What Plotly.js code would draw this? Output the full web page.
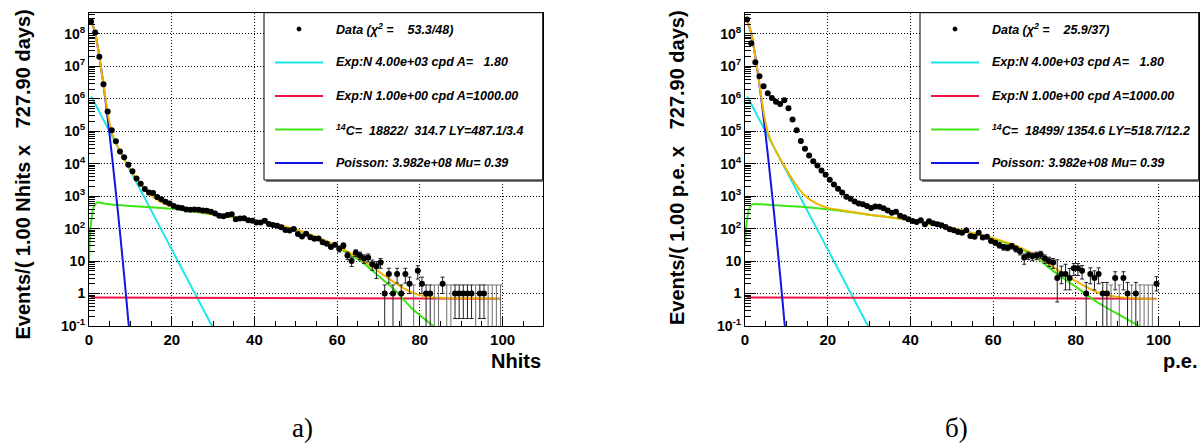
<!DOCTYPE html>
<html><head><meta charset="utf-8">
<script src="https://cdn.plot.ly/plotly-3.0.1.min.js"></script>
<style>html,body{margin:0;padding:0;background:#fff;}#chart{width:1204px;height:444px;}</style>
</head><body><div id="chart"></div>
<script>
// ---------------- data ----------------
const bins = [0.5,1.5,2.5,3.5,4.5,5.5,6.5,7.5,8.5,9.5,10.5,11.5,12.5,13.5,14.5,15.5,16.5,17.5,18.5,19.5,
20.5,21.5,22.5,23.5,24.5,25.5,26.5,27.5,28.5,29.5,30.5,31.5,32.5,33.5,34.5,35.5,36.5,37.5,38.5,39.5,
40.5,41.5,42.5,43.5,44.5,45.5,46.5,47.5,48.5,49.5,50.5,51.5,52.5,53.5,54.5,55.5,56.5,57.5,58.5,59.5,
60.5,61.5,62.5,63.5,64.5,65.5,66.5,67.5,68.5,69.5,70.5,71.5,72.5,73.5,74.5,75.5,76.5,77.5,78.5,79.5,
80.5,81.5,82.5,83.5,84.5,85.5,86.5,87.5,88.5,89.5,90.5,91.5,92.5,93.5,94.5,95.5,96.5,97.5,98.5,99.5];

const dataLeft = [2.4e8,1.1e8,2.0e7,2.8e6,4.1e5,1.07e5,4.9e4,2.4e4,1.6e4,9300,
5900,3500,2400,1660,1300,1250,950,800,680,600,
500,450,430,390,385,390,380,365,355,330,
295,250,240,265,280,195,205,210,182,174,
155,155,174,138,129,123,110,91,87,98,
69,57,70,54,49,50,38,34,27,32,
24,30,15,10,18,15,12,13,8,7,
9,1,4,1,4,1,4,2,0,5,
2,1,1,0,0,2,0,0,1,1,
1,1,1,0,1,1,0,0,0,0];

const dataRight = [2.8e8,5.2e7,1.35e7,5.0e6,2.45e6,1.5e6,1.07e6,8.1e5,6.9e5,9.1e5,
5.1e5,2.3e5,1.07e5,5.0e4,2.9e4,1.8e4,1.2e4,8900,6200,4600,
3200,2300,1700,1300,960,830,690,600,560,500,
435,480,470,425,365,310,330,250,225,194,
173,161,180,136,169,146,136,127,112,95,
89,79,75,89,59,56,75,53,56,42,
37,31,27,26,29,24,20,13,15,14,
15,16,12,10,9,3,4,4,3,6,
6,5,1,4,3,4,1,1,0,3,
0,3,1,0,1,0,0,0,0,2];

// error bars for the tail bins (bins 60.5 ... 99.5)
const tailStart = 60;
const errLoLeft = [4.9,5.5,3.9,3.2,4.2,3.9,3.5,3.6,2.8,4.1,
3,1,1.9,1,1.9,1,1.9,1,0,2.2,
1,1,1,0,0,1,0,0,0.83,0.83,
0.83,0.83,0.83,0,0.83,0.83,0,0,0,0];
const errHiLeft = [4.9,5.5,3.9,3.2,4.2,3.9,3.5,3.6,2.8,2.6,
3,0.84,2,0.84,2,0.84,2,1.2,1.84,2.2,
1.2,0.84,0.84,1.84,1.84,1.2,1.84,1.84,0.84,0.84,
0.84,0.84,0.84,1.84,0.84,0.84,1.84,1.84,1.84,1.84];
const errLoRight = [6.1,5.6,5.2,5.1,5.4,4.9,4.5,5,3.9,3.7,
3.9,4,3.5,3.2,3,2.45,2,2.7,1.7,2.4,
2.4,2.2,1,2,1.7,2,1,1,0,1.7,
0,1.7,1,0,1,0,0,0,0,0.8];
const errHiRight = [6.1,5.6,5.2,5.1,5.4,4.9,4.5,3.6,3.9,3.7,
3.9,4,3.5,3.2,3,8,3,4,2.9,2.4,
2.4,2.3,1.2,2.2,2,2.2,1.2,1.2,1.84,1.7,
1.84,1.7,1.2,1.84,1.2,1.84,1.84,1.84,1.84,1.3];

// fit components
const cyanX = [0.5,5,10,15,20,25,30];
const cyanY = [1.2e6,1.0e5,6.0e3,370,23,1.4,0.087];
const redX = [0.5,25,50,75,99.5];
const redY = [0.76,0.74,0.72,0.705,0.69];
const blueX = [0.5,1.5,2.5,3.5,4.5,5.5,6.5,7.5,8.5,9.5,10.5];
const blueY = [2.7e8,1.05e8,2.0e7,2.7e6,2.6e5,2.0e4,1300,75,3.6,0.15,0.006];
const greenLeftX = [0,0.25,0.5,0.75,1,1.5,2,3,4,6,8,10,14,20,25,30,35,40,45,50,55,60,63,66,70,74,78,83.3];
const greenLeftY = [10,56,160,280,400,560,645,617,589,550,525,501,468,407,339,275,224,182,135,93,54,27.5,15.8,9.5,3.5,1.26,0.355,0.1];
const greenRightX = [0,0.25,0.5,1,1.5,2,4,7,10,15,20,25,30,35,40,45,50,55,60,65,70,75,80,85,90,95.3];
const greenRightY = [29,100,200,398,525,575,562,525,501,457,398,331,269,224,178,135,102,72,49,29.5,14.1,4.5,1.6,0.56,0.24,0.1];
const orangeLeftX = [0.5,1.5,2.5,3.5,4.5,5.5,6.5,8,10,12,14,16,18,20,22,25,30,35,40,45,50,55,60,63,66,70,73,76,79,82,85,90,99.5];
const orangeLeftY = [2.8e8,1.05e8,2.0e7,2.8e6,3.9e5,9.3e4,4.5e4,1.8e4,6600,2800,1400,850,600,480,420,355,280,230,182,138,95,56,29.5,17.8,11,4.8,2.6,1.48,0.98,0.79,0.74,0.72,0.70];
const orangeRightX = [0.5,1.5,2.5,3.5,4.5,5.5,6.5,8,10,12,14,16,18,20,25,30,35,40,45,50,55,60,65,70,75,80,85,90,95,99.5];
const orangeRightY = [2.8e8,1.05e8,2.0e7,2.8e6,3.9e5,9.3e4,4.4e4,1.86e4,6600,2600,1200,740,540,436,340,270,224,178,138,105,74,51,31.6,15.8,6.0,2.4,1.12,0.79,0.70,0.67];

// axes labels
const xTickVals = [0,20,40,60,80,100];
const xMinorVals = [5,10,15,25,30,35,45,50,55,65,70,75,85,90,95,105];
const yTickVals = [0.1,1,10,100,1e3,1e4,1e5,1e6,1e7,1e8];
const yTickText = ['10<sup>-1</sup>','1','10','10<sup>2</sup>','10<sup>3</sup>','10<sup>4</sup>','10<sup>5</sup>','10<sup>6</sup>','10<sup>7</sup>','10<sup>8</sup>'];
const xTitles = ['Nhits','p.e.'];
const yTitles = ['Events/( 1.00 Nhits x \u00a0\u00a0727.90 days)','Events/( 1.00 p.e. x \u00a0\u00a0727.90 days)'];
const panelLabels = ['а)','б)'];
const legendLeft = ['Data (χ<sup>2</sup> = \u00a0\u00a0\u00a053.3/48)','Exp:N 4.00e+03 cpd A= \u00a0\u00a01.80','Exp:N 1.00e+00 cpd A=1000.00','<sup>14</sup>C= \u00a018822/ \u00a0314.7 LY=487.1/3.4','Poisson: 3.982e+08 Mu= 0.39'];
const legendRight = ['Data (χ<sup>2</sup> = \u00a0\u00a0\u00a025.9/37)','Exp:N 4.00e+03 cpd A= \u00a0\u00a01.80','Exp:N 1.00e+00 cpd A=1000.00','<sup>14</sup>C= \u00a018499/ 1354.6 LY=518.7/12.2','Poisson: 3.982e+08 Mu= 0.39'];

// ---------------- styling ----------------
const W = 1204, H = 444;
const px = x => x / W, py = y => 1 - y / H;
const COL = {cyan:'#1ee6e6', red:'#f01446', green:'#3ce614', blue:'#1414e6', orange:'#f0b400'};
const FONT = 'Liberation Sans, Arial, Helvetica, sans-serif';
const GRIDDASH = '1px,2px';

function yMinor(){ const v=[]; for(let d=-1; d<=8; d++){ for(let k=2;k<=9;k++){ const t=k*Math.pow(10,d); if(t<4.5e8) v.push(t);} } return v; }

function panelTraces(xa, ya, data, errLo, errHi, gX, gY, oX, oY){
  const lo = data.map((v,i)=> i>=tailStart ? errLo[i-tailStart] : 0);
  const hi = data.map((v,i)=> i>=tailStart ? errHi[i-tailStart] : 0);
  const nzX=[], nzY=[], nzLo=[], nzHi=[], zX=[], zY=[], zHi=[];
  data.forEach((v,i)=>{
    if(v>0){ nzX.push(bins[i]); nzY.push(v); nzLo.push(lo[i]); nzHi.push(hi[i]); }
    else { zX.push(bins[i]); zY.push(v+hi[i]); zHi.push(hi[i]); }
  });
  const ln = (x,y,c,shape)=>({x:x,y:y,xaxis:xa,yaxis:ya,type:'scatter',mode:'lines',
     line:{color:c,width:2,shape:shape||'linear',smoothing:0.6},hoverinfo:'skip'});
  return [
    ln(cyanX,cyanY,COL.cyan),
    ln(redX,redY,COL.red),
    ln(gX,gY,COL.green,'spline'),
    ln(blueX,blueY,COL.blue,'spline'),
    ln(oX,oY,COL.orange,'spline'),
    {x:zX,y:zY,xaxis:xa,yaxis:ya,type:'scatter',mode:'markers',marker:{size:1,opacity:0},
     error_y:{type:'data',symmetric:false,array:zX.map(()=>0),arrayminus:zHi,color:'#707070',thickness:1,width:2}},
    {x:nzX,y:nzY,xaxis:xa,yaxis:ya,type:'scatter',mode:'markers',
     marker:{size:6,color:'#000',symbol:'circle'},
     error_y:{type:'data',symmetric:false,array:nzHi,arrayminus:nzLo,color:'#222',thickness:1,width:2}}
  ];
}

const traces = [].concat(
  panelTraces('x','y',dataLeft,errLoLeft,errHiLeft,greenLeftX,greenLeftY,orangeLeftX,orangeLeftY),
  panelTraces('x2','y2',dataRight,errLoRight,errHiRight,greenRightX,greenRightY,orangeRightX,orangeRightY)
);

function xAxis(dom, anchor){
  return {domain:dom, anchor:anchor, range:[0,109.7], showline:true, linecolor:'#000', linewidth:1, mirror:true,
    ticks:'inside', ticklen:9, tickwidth:1, tickcolor:'#000', tickmode:'array', tickvals:xTickVals,
    tickfont:{family:FONT,size:15,color:'#000',weight:'bold'},
    showgrid:true, gridcolor:'#000', gridwidth:1, griddash:GRIDDASH, zeroline:false,
    minor:{tickmode:'array', tickvals:xMinorVals, ticks:'inside', ticklen:5, tickcolor:'#000', tickwidth:1, showgrid:false}};
}
function yAxis(anchor){
  return {domain:[py(326),py(12.7)], anchor:anchor, type:'log', range:[-1,8.655], showline:true, linecolor:'#000', linewidth:1, mirror:true,
    ticks:'inside', ticklen:11, tickwidth:1, tickcolor:'#000', tickmode:'array', tickvals:yTickVals, ticktext:yTickText,
    tickfont:{family:FONT,size:14,color:'#000',weight:'bold'},
    showgrid:true, gridcolor:'#000', gridwidth:1, griddash:GRIDDASH, zeroline:false,
    minor:{tickmode:'array', tickvals:yMinor(), ticks:'inside', ticklen:6, tickcolor:'#000', tickwidth:1, showgrid:false}};
}

// legend boxes
const shapes = [], annotations = [];
const rowsY = [29,62.5,96,129.5,163];
const lineCols = [null, COL.cyan, COL.red, COL.green, COL.blue];
function addLegend(x0, x1, texts){
  shapes.push({type:'rect',xref:'paper',yref:'paper',x0:px(x0+2),x1:px(x1),y0:py(182),y1:py(180),fillcolor:'#808080',line:{width:0},layer:'above'});
  shapes.push({type:'rect',xref:'paper',yref:'paper',x0:px(x0),x1:px(x1),y0:py(180),y1:py(12.7),fillcolor:'#fff',line:{color:'#000',width:1},layer:'above'});
  texts.forEach((t,i)=>{
    const yy = rowsY[i];
    if(i===0){
      shapes.push({type:'circle',xref:'paper',yref:'paper',x0:px(x0+33),x1:px(x0+37),y0:py(yy+2),y1:py(yy-2),fillcolor:'#000',line:{color:'#000',width:1},layer:'above'});
    } else {
      shapes.push({type:'line',xref:'paper',yref:'paper',x0:px(x0+11),x1:px(x0+59),y0:py(yy),y1:py(yy),line:{color:lineCols[i],width:2},layer:'above'});
    }
    annotations.push({xref:'paper',yref:'paper',x:px(x0+70),y:py(yy),xanchor:'left',yanchor:'middle',showarrow:false,
      text:t,font:{family:FONT,size:12.5,color:'#000',weight:'bold',style:'italic'}});
  });
}
addLegend(264,542.7,legendLeft);
addLegend(920,1198.7,legendRight);

// axis titles & panel labels
annotations.push({xref:'paper',yref:'paper',x:px(542.7),y:py(361),xanchor:'right',yanchor:'middle',showarrow:false,text:xTitles[0],font:{family:FONT,size:20,color:'#000',weight:'bold'}});
annotations.push({xref:'paper',yref:'paper',x:px(1198.7),y:py(361),xanchor:'right',yanchor:'middle',showarrow:false,text:xTitles[1],font:{family:FONT,size:20,color:'#000',weight:'bold'}});
annotations.push({xref:'paper',yref:'paper',x:px(22.5),y:py(175),xanchor:'center',yanchor:'middle',textangle:-90,showarrow:false,text:yTitles[0],font:{family:FONT,size:20,color:'#000',weight:'bold'}});
annotations.push({xref:'paper',yref:'paper',x:px(677),y:py(168),xanchor:'center',yanchor:'middle',textangle:-90,showarrow:false,text:yTitles[1],font:{family:FONT,size:20,color:'#000',weight:'bold'}});
annotations.push({xref:'paper',yref:'paper',x:px(302),y:py(428),xanchor:'center',yanchor:'middle',showarrow:false,text:panelLabels[0],font:{family:'Liberation Serif, DejaVu Serif, serif',size:27,color:'#000'}});
annotations.push({xref:'paper',yref:'paper',x:px(956),y:py(428),xanchor:'center',yanchor:'middle',showarrow:false,text:panelLabels[1],font:{family:'Liberation Serif, DejaVu Serif, serif',size:27,color:'#000'}});

const layout = {
  width:W, height:H, margin:{l:0,r:0,t:0,b:0}, paper_bgcolor:'#fff', plot_bgcolor:'#fff', showlegend:false,
  xaxis: xAxis([px(89),px(542.7)],'y'),
  yaxis: yAxis('x'),
  xaxis2: xAxis([px(745),px(1198.7)],'y2'),
  yaxis2: yAxis('x2'),
  shapes: shapes, annotations: annotations
};

Plotly.newPlot('chart', traces, layout, {staticPlot:true, displayModeBar:false});
</script></body></html>
